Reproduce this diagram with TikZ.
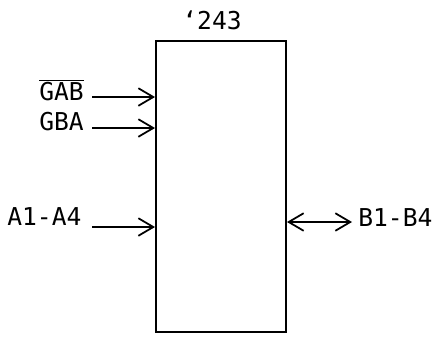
\documentclass[tikz,border=0pt]{standalone}
\usepackage{fontspec}
\setmainfont{DejaVu Sans Mono}
\usetikzlibrary{arrows.meta}
\begin{document}
\begin{tikzpicture}[x=0.02cm,y=-0.02cm,
  lbl/.style={font=\fontsize{14}{16}\selectfont, inner sep=0pt},
  tip/.tip={Straight Barb[length=8.5pt,width=10pt,line width=1pt]},
  sig/.style={line width=1pt, -tip},
  bisig/.style={line width=1pt, tip-tip}]
\useasboundingbox (0,0) rectangle (439,336);
\node[draw, line width=1.1pt, minimum width=130*0.02cm, minimum height=291*0.02cm, inner sep=0pt] (chip) at (221,186.5) {};
\node[lbl] (title) at (212,20) {‘243};
\node[lbl, anchor=west] (gab) at (39,90) {$\overline{\mbox{GAB}}$};
\node[lbl, anchor=west] (gba) at (39,122) {GBA};
\node[lbl, anchor=west] (ain) at (7,217) {A1-A4};
\node[lbl, anchor=west] (bout) at (358,218) {B1-B4};
\coordinate (gabs) at (92,97);
\coordinate (gbas) at (92,128);
\coordinate (ains) at (92,227);
\coordinate (bend) at (352,222);
\draw[sig] (gabs) -- (gabs -| chip.west);
\draw[sig] (gbas) -- (gbas -| chip.west);
\draw[sig] (ains) -- (ains -| chip.west);
\draw[bisig] (bend -| chip.east) -- (bend);
\end{tikzpicture}
\end{document}
